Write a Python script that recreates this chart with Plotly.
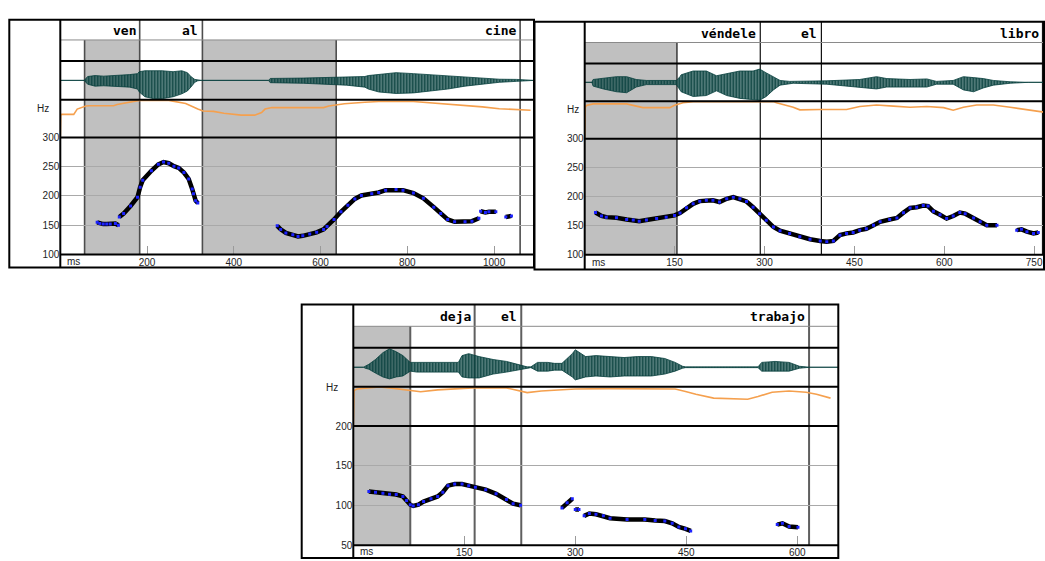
import plotly.graph_objects as go

W, H = 1045, 561

# ======================= DATA =======================
# ---- Panel 1: "ven al cine" ----
p1_words = ["ven", "al", "cine"]
p1_word_ends = [183, 327.6, 1060]
p1_gray_spans = [[56, 183], [327.6, 636]]
p1_gray_edges = [56, 636]
p1_xticks = [200, 400, 600, 800, 1000]
p1_f0_ticks = [100, 150, 200, 250, 300]
p1_f0_range = [100, 300]

p1_wave_t = [0, 55, 63, 80, 100, 130, 160, 178, 182, 195, 215, 235, 260, 280, 293, 301, 310, 317, 325, 480,
             484, 560, 639, 660, 702, 710, 734, 774, 814, 853, 893, 933, 973, 1012, 1052, 1080, 1092]
p1_wave_up = [0, 0, 0.2, 0.25, 0.22, 0.25, 0.3, 0.35, 0.45, 0.5, 0.5, 0.5, 0.45, 0.5, 0.4, 0.2, 0.05, 0.02, 0, 0,
              0.1, 0.12, 0.15, 0.15, 0.2, 0.25, 0.3, 0.4, 0.35, 0.3, 0.25, 0.2, 0.12, 0.06, 0.05, 0.02, 0]
p1_wave_lo = [0, 0, -0.2, -0.3, -0.28, -0.3, -0.35, -0.45, -0.6, -0.85, -0.95, -0.95, -0.85, -0.7, -0.55, -0.35, -0.1, -0.02, 0, 0,
              -0.12, -0.15, -0.2, -0.25, -0.35, -0.45, -0.6, -0.68, -0.65, -0.55, -0.45, -0.3, -0.2, -0.1, -0.05, -0.02, 0]

p1_int_t = [0, 1, 3, 31, 39, 47, 59, 67, 123, 131, 178, 182, 250, 289, 317, 329, 353, 377, 417, 448,
            464, 472, 488, 607, 619, 655, 702, 734, 814, 853, 893, 973, 1012, 1052, 1084]
p1_int_v = [2, 58, 61, 61, 75, 79, 83, 84, 84, 87, 96, 98, 98, 90, 75, 70, 69, 64, 59, 59,
            66, 75, 79, 79, 83, 89, 93, 95, 95, 92, 87, 81, 76, 74, 72]

p1_f0_t = [
    [85, 91, 99, 107, 115, 127, 134],
    [136, 146, 162, 178, 184, 190, 210, 226, 238, 250, 262, 273, 285, 296, 304, 307, 312, 317],
    [500, 508, 520, 536, 548, 559, 575, 591, 607, 615, 631, 647, 663, 679, 694, 718, 734, 750, 774, 790,
     814, 837, 861, 877, 893, 909, 933, 949, 965],
    [969, 980, 988, 1004],
    [1027, 1040],
]
p1_f0_hz = [
    [155, 153, 152, 152, 152, 153, 150],
    [164, 170, 183, 198, 215, 227, 243, 254, 258, 256, 251, 248, 240, 229, 212, 204, 192, 188],
    [149, 143, 137, 134, 131, 132, 135, 138, 143, 148, 160, 173, 184, 195, 201, 204, 206, 210, 211, 210,
     205, 196, 181, 170, 160, 156, 156, 157, 162],
    [174, 172, 173, 173],
    [164, 166],
]

# ---- Panel 2: "véndele el libro" ----
p2_words = ["véndele", "el", "libro"]
p2_word_ends = [293, 395, 764]
p2_gray_spans = [[0, 154]]
p2_gray_edges = [154]
p2_xticks = [150, 300, 450, 600, 750]
p2_f0_ticks = [100, 150, 200, 250, 300]
p2_f0_range = [100, 300]

p2_wave_t = [0, 12, 14, 31, 53, 70, 86, 103, 153, 159, 161, 181, 203, 220, 237, 259, 281, 292, 303, 315,
             326, 342, 348, 404, 459, 487, 504, 543, 571, 587, 615, 632, 649, 665, 682, 710, 740, 767]
p2_wave_up = [0, 0, 0.15, 0.2, 0.3, 0.3, 0.15, 0.1, 0.1, 0.3, 0.4, 0.6, 0.6, 0.35, 0.45, 0.6, 0.6, 0.7, 0.5, 0.3,
              0.1, 0.05, 0.05, 0.08, 0.15, 0.3, 0.2, 0.15, 0.18, 0.05, 0.1, 0.3, 0.25, 0.2, 0.1, 0.03, 0, 0]
p2_wave_lo = [0, 0, -0.2, -0.35, -0.5, -0.55, -0.25, -0.12, -0.12, -0.4, -0.5, -0.75, -0.7, -0.45, -0.7, -0.85, -0.9, -0.95, -0.75, -0.4,
              -0.15, -0.05, -0.05, -0.1, -0.25, -0.35, -0.25, -0.25, -0.25, -0.1, -0.1, -0.4, -0.5, -0.3, -0.15, -0.05, 0, 0]

p2_int_t = [0, 1, 3, 14, 70, 81, 97, 142, 150, 164, 181, 315, 320, 348, 359, 393, 437, 459, 487, 515,
            543, 571, 599, 615, 632, 654, 682, 710, 738, 766]
p2_int_v = [2, 83, 89, 93, 93, 89, 83, 83, 89, 96, 99, 99, 96, 84, 77, 78, 78, 86, 90, 87,
            84, 86, 83, 76, 84, 90, 90, 84, 77, 71]

p2_f0_t = [
    [18, 28, 36, 53, 70, 81, 91, 103, 120, 136, 150, 159, 170, 181, 192, 203, 214, 225, 237, 248,
     259, 270, 281, 292, 303, 315, 326, 342, 359, 376, 393, 404, 415, 426, 437, 448, 459, 470, 482, 493,
     509, 521, 532, 543, 554, 565, 573, 582, 593, 604, 615, 626, 635, 649, 660, 671, 688],
    [721, 729, 738, 749, 757],
]
p2_f0_hz = [
    [173, 167, 165, 164, 161, 160, 158, 160, 162.5, 165, 168, 172, 181, 188, 192.6, 194, 194, 191, 196.6, 199.4,
     196.6, 192, 182, 171, 159.6, 148, 141.5, 137, 131, 127, 124, 122.7, 124, 134, 137, 138.6, 142.6, 145, 151, 157,
     161, 163.6, 172.7, 180.7, 182, 185, 184, 175, 169, 162.5, 167, 173, 171, 163.6, 157, 151, 151],
    [142.6, 144, 140, 137, 138.6],
]

# ---- Panel 3: "deja el trabajo" ----
p3_words = ["deja", "el", "trabajo"]
p3_word_ends = [164, 227, 616]
p3_gray_spans = [[0, 77]]
p3_gray_edges = [77]
p3_xticks = [150, 300, 450, 600]
p3_f0_ticks = [50, 100, 150, 200]
p3_f0_range = [50, 200]

p3_wave_t = [0, 14, 16, 21, 30, 40, 49, 58, 67, 77, 86, 142, 147, 156, 170, 189, 207, 226, 235, 240,
             249, 263, 272, 282, 296, 300, 314, 328, 347, 366, 384, 403, 421, 435, 445, 449, 547, 552, 570, 589,
             603, 617, 656]
p3_wave_up = [0, 0, 0.05, 0.15, 0.4, 0.75, 0.95, 0.8, 0.6, 0.25, 0.25, 0.25, 0.6, 0.7, 0.55, 0.4, 0.3, 0.12, 0.02, 0.02,
              0.25, 0.25, 0.2, 0.2, 0.7, 0.9, 0.55, 0.6, 0.55, 0.5, 0.55, 0.55, 0.45, 0.25, 0.05, 0.02, 0.02, 0.25, 0.3, 0.25,
              0.05, 0, 0]
p3_wave_lo = [0, 0, -0.05, -0.1, -0.3, -0.5, -0.6, -0.5, -0.45, -0.2, -0.25, -0.25, -0.5, -0.55, -0.55, -0.35, -0.25, -0.1, -0.02, -0.02,
              -0.2, -0.2, -0.15, -0.15, -0.5, -0.65, -0.5, -0.45, -0.5, -0.45, -0.45, -0.45, -0.35, -0.2, -0.05, -0.02, -0.02, -0.2, -0.2, -0.2,
              -0.05, 0, 0]

p3_int_t = [0, 1, 5, 21, 35, 49, 67, 77, 91, 114, 137, 161, 207, 226, 235, 254, 277, 300, 347, 394,
            435, 449, 463, 487, 510, 533, 547, 566, 589, 612, 626, 645]
p3_int_v = [0, 90, 94, 97, 99, 97, 92, 89, 87, 92, 95, 97, 97, 89, 85, 89, 92, 94, 95, 95,
            94, 88, 81, 71, 70, 68, 75, 86, 89, 86, 81, 71]

p3_f0_t = [
    [21, 30, 40, 49, 58, 67, 72, 77, 81, 88, 95, 105, 114, 121, 128, 137, 147, 156, 165, 179, 193, 207, 216, 226],
    [282, 289, 296],
    [300, 305],
    [312, 319, 328, 338, 347, 370, 394, 408, 421, 431, 440, 449, 456],
    [573, 580, 589, 601],
]
p3_f0_hz = [
    [117.6, 116.7, 115.5, 114.3, 113.9, 111.4, 106.4, 101, 99.4, 101, 105, 108.5, 111.4, 116.7, 125, 127, 127, 125, 123, 120,
     114.7, 107.7, 102.3, 100.3],
    [97, 103.6, 108.5],
    [95, 95],
    [87, 90, 89, 87, 84, 82.5, 82.5, 81, 80.5, 77.6, 73, 70.6, 68],
    [76, 77.6, 73.5, 72.7],
]

# ======================= LAYOUT GEOMETRY (pixels) =======================
GEOM = [
    dict(L=9.3, IL=60.3, R=534, T=14, rows=[34.7, 56.3, 95.7, 134.3, 254], B=267.3, xmax=1092,
         hz_x=51, hz_y=104.5, bcol="#4d4d4d", bw=1.6),
    dict(L=534.5, IL=584.7, R=1044, T=16, rows=[37.3, 58.7, 97.3, 135.7, 254.3], B=269.3, xmax=766.5,
         hz_x=580.5, hz_y=106, bcol="#111111", bw=1.2),
    dict(L=301.7, IL=353.3, R=838.3, T=305, rows=[327.3, 349.3, 389, 429.3, 551], B=564, xmax=655.5,
         hz_x=339.5, hz_y=389.5, bcol="#5f5f5f", bw=2),
]

PANELS = [
    dict(words=p1_words, ends=p1_word_ends, gray=p1_gray_spans, gedges=p1_gray_edges, xticks=p1_xticks,
         fticks=p1_f0_ticks, frange=p1_f0_range, wt=p1_wave_t, wu=p1_wave_up, wl=p1_wave_lo,
         it=p1_int_t, iv=p1_int_v, ft=p1_f0_t, fh=p1_f0_hz),
    dict(words=p2_words, ends=p2_word_ends, gray=p2_gray_spans, gedges=p2_gray_edges, xticks=p2_xticks,
         fticks=p2_f0_ticks, frange=p2_f0_range, wt=p2_wave_t, wu=p2_wave_up, wl=p2_wave_lo,
         it=p2_int_t, iv=p2_int_v, ft=p2_f0_t, fh=p2_f0_hz),
    dict(words=p3_words, ends=p3_word_ends, gray=p3_gray_spans, gedges=p3_gray_edges, xticks=p3_xticks,
         fticks=p3_f0_ticks, frange=p3_f0_range, wt=p3_wave_t, wu=p3_wave_up, wl=p3_wave_lo,
         it=p3_int_t, iv=p3_int_v, ft=p3_f0_t, fh=p3_f0_hz),
]


def px(x):
    return x / W


def py(y):
    return 1 - y / H


WAVE_COL = "#063f3c"
INT_COL = "#f5a04e"
TICK_FONT = dict(family="Liberation Sans, Arial, sans-serif", size=10, color="#1e1e1e")
WORD_FONT = dict(family="DejaVu Sans Mono, monospace", size=13, color="#000000", weight="bold")

fig = go.Figure()
layout = dict(width=W, height=H, margin=dict(l=0, r=0, t=0, b=0), showlegend=False,
              paper_bgcolor="white", plot_bgcolor="rgba(0,0,0,0)")
shapes = []
annotations = []


def ax_name(kind, n):
    return kind if n == 1 else f"{kind}{n}"


for i, (g, p) in enumerate(zip(GEOM, PANELS)):
    xi = i + 1
    yw, yi, yf = 3 * i + 1, 3 * i + 2, 3 * i + 3
    xref = ax_name("x", xi)
    r1, r2, r3, r4, r5 = g["rows"]

    layout[ax_name("xaxis", xi)] = dict(
        domain=[px(g["IL"]), px(g["R"])], range=[0, g["xmax"]], anchor=ax_name("y", yf),
        tickvals=p["xticks"], ticks="inside", ticklen=9, tickcolor="#9a9a9a", tickwidth=1,
        showgrid=False, zeroline=False, showline=False, tickfont=TICK_FONT, fixedrange=True)
    layout[ax_name("yaxis", yw)] = dict(domain=[py(r3), py(r2)], range=[-1, 1], anchor=xref,
                                       visible=False, fixedrange=True)
    layout[ax_name("yaxis", yi)] = dict(domain=[py(r4), py(r3)], range=[0, 100], anchor=xref,
                                       visible=False, fixedrange=True)
    layout[ax_name("yaxis", yf)] = dict(
        domain=[py(r5), py(r4)], range=p["frange"], anchor=xref, tickvals=p["fticks"],
        showgrid=True, gridcolor="#a9a9a9", gridwidth=1, zeroline=False, showline=False,
        ticks="", tickfont=TICK_FONT, fixedrange=True)

    # waveform envelope (vertical-stroke texture like an oscillogram)
    fig.add_trace(go.Scatter(x=p["wt"], y=p["wl"], mode="lines", line=dict(color=WAVE_COL, width=0.8),
                             xaxis=xref, yaxis=ax_name("y", yw), hoverinfo="skip"))
    fig.add_trace(go.Scatter(x=p["wt"], y=p["wu"], mode="lines", line=dict(color=WAVE_COL, width=0.8),
                             fill="tonexty", fillcolor="rgba(0,0,0,0)",
                             fillpattern=dict(shape="|", fgcolor=WAVE_COL, bgcolor="rgba(80,130,128,0.35)",
                                              size=3, solidity=0.75, fillmode="replace"),
                             xaxis=xref, yaxis=ax_name("y", yw), hoverinfo="skip"))
    # intensity curve
    fig.add_trace(go.Scatter(x=p["it"], y=p["iv"], mode="lines", line=dict(color=INT_COL, width=1.6),
                             xaxis=xref, yaxis=ax_name("y", yi), hoverinfo="skip"))
    # F0 segments
    ft, fh = [], []
    for seg_t, seg_h in zip(p["ft"], p["fh"]):
        ft += seg_t + [None]
        fh += seg_h + [None]
    fig.add_trace(go.Scatter(x=ft, y=fh, mode="lines", line=dict(color="#000000", width=4.5),
                             connectgaps=False, xaxis=xref, yaxis=ax_name("y", yf), hoverinfo="skip"))
    fig.add_trace(go.Scatter(x=ft, y=fh, mode="markers",
                             marker=dict(color="#1c22ff", size=3, symbol="square"),
                             xaxis=xref, yaxis=ax_name("y", yf), hoverinfo="skip"))

    # gray intervals (from gray tier down to F0 bottom)
    for a, b in p["gray"]:
        shapes.append(dict(type="rect", xref=xref, yref="paper", x0=a, x1=b, y0=py(r5), y1=py(r1),
                           fillcolor="#c0c0c0", line=dict(width=0), layer="below"))
    # boundary lines
    for e in p["ends"]:
        shapes.append(dict(type="line", xref=xref, yref="paper", x0=e, x1=e, y0=py(r5), y1=py(g["T"]),
                           line=dict(color=g["bcol"], width=g["bw"]), layer="below"))
    for e in p["gedges"]:
        shapes.append(dict(type="line", xref=xref, yref="paper", x0=e, x1=e, y0=py(r5), y1=py(r1),
                           line=dict(color=g["bcol"], width=g["bw"]), layer="below"))

    # frame lines
    shapes.append(dict(type="line", xref="paper", yref="paper", x0=px(g["IL"]), x1=px(g["R"]),
                       y0=py(r1), y1=py(r1), line=dict(color="#8a8a8a", width=1)))
    for r in (r2, r3, r4, r5):
        shapes.append(dict(type="line", xref="paper", yref="paper", x0=px(g["IL"]), x1=px(g["R"]),
                           y0=py(r), y1=py(r), line=dict(color="#000000", width=2)))
    shapes.append(dict(type="line", xref="paper", yref="paper", x0=px(g["IL"]), x1=px(g["IL"]),
                       y0=py(g["B"]), y1=py(g["T"]), line=dict(color="#000000", width=2)))
    shapes.append(dict(type="rect", xref="paper", yref="paper", x0=px(g["L"]), x1=px(g["R"]),
                       y0=py(g["B"]), y1=py(g["T"]), line=dict(color="#000000", width=2),
                       fillcolor="rgba(0,0,0,0)"))

    # word labels
    for w, e in zip(p["words"], p["ends"]):
        annotations.append(dict(text=w, x=e, xref=xref, y=py((g["T"] + r1) / 2 + 1), yref="paper",
                                xanchor="right", yanchor="middle", xshift=-2, showarrow=False,
                                font=WORD_FONT))
    # Hz / ms labels
    annotations.append(dict(text="Hz", x=px(g["hz_x"]), y=py(g["hz_y"]), xref="paper", yref="paper",
                            xanchor="right", yanchor="middle", showarrow=False, font=TICK_FONT))
    annotations.append(dict(text="ms", x=px(g["IL"] + 5), y=py((r5 + g["B"]) / 2), xref="paper",
                            yref="paper", xanchor="left", yanchor="middle", showarrow=False,
                            font=TICK_FONT))

layout["shapes"] = shapes
layout["annotations"] = annotations
fig.update_layout(**layout)

fig.write_html("out.html", config={"displayModeBar": False, "staticPlot": True},
               post_script="document.body.style.margin='0px';document.body.style.overflow='hidden';")
